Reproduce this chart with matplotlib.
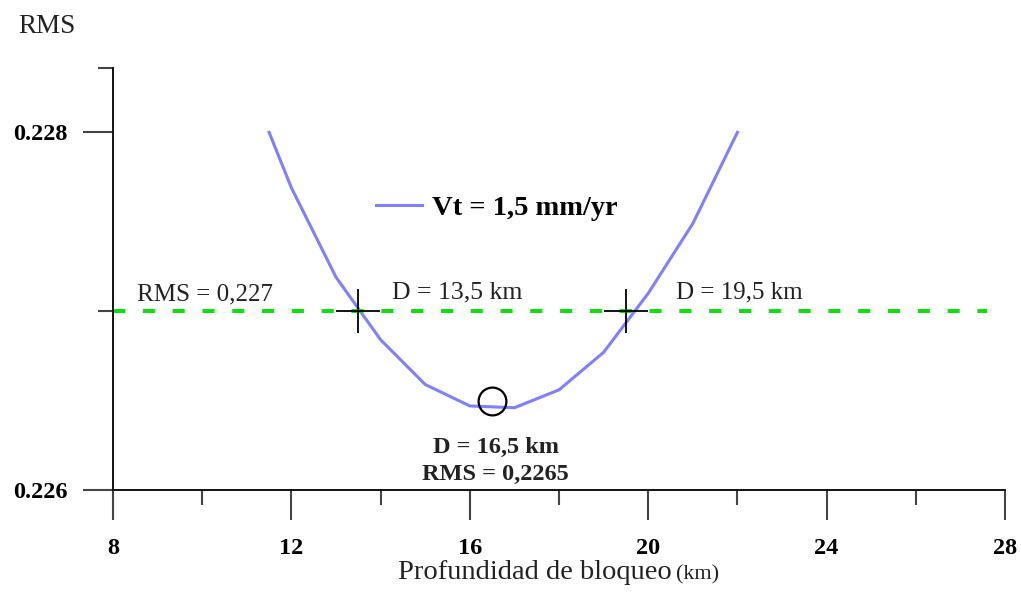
import numpy as np
import matplotlib
matplotlib.use("Agg")
import matplotlib.pyplot as plt

# Locking depth (km) vs RMS misfit for Vt = 1.5 mm/yr
depth_km = [11.5, 12, 13, 14, 15, 16, 17, 18, 19, 20, 21, 22]
rms = [0.22800, 0.22769, 0.22719, 0.22684, 0.22659, 0.22647,
       0.22646, 0.22656, 0.22677, 0.22710, 0.22749, 0.22800]

rms_threshold = 0.227
bound_depths = [13.5, 19.5]
best_depth = 16.5
best_rms = 0.2265

x_major = [8, 12, 16, 20, 24, 28]
x_minor = [10, 14, 18, 22, 26]
y_major = [0.226, 0.228]
y_major_labels = ["0.226", "0.228"]
y_top = 0.22836

serif = ["Liberation Serif", "DejaVu Serif"]
plt.rcParams["font.family"] = serif

W, H = 1021, 594
fig = plt.figure(figsize=(W / 100, H / 100), dpi=100)
ax = fig.add_axes([113 / W, (H - 490) / H, (1005 - 113) / W, (490 - 68) / H])


def fig_text(px, py, s, **kw):
    """Place text at a pixel position measured from the top-left corner."""
    fig.text(px / W, 1 - py / H, s, **kw)


ax.set_xlim(8, 28)
ax.set_ylim(0.226, y_top)

# curve and threshold
ax.plot(depth_km, rms, color="#8080ff", lw=2.2, solid_joinstyle="miter")
ax.plot([8, 27.6], [rms_threshold, rms_threshold], color="#11dd11", lw=2.9,
        dashes=(3.0, 4.4), dash_capstyle="butt")

# bound markers and best-fit circle
ax.plot(bound_depths, [rms_threshold] * len(bound_depths), ls="none",
        marker="+", ms=31, mew=1.3, color="black")
ax.plot([best_depth], [best_rms], ls="none", marker="o", ms=20,
        mfc="none", mec="black", mew=1.6)

# axes styling
for side in ("top", "right"):
    ax.spines[side].set_visible(False)
for side in ("left", "bottom"):
    ax.spines[side].set_linewidth(1.4)
    ax.spines[side].set_color("#111111")

ax.set_xticks(x_major)
ax.set_xticks(x_minor, minor=True)
ax.set_yticks(y_major)
ax.set_yticklabels(y_major_labels)
ax.set_yticks([rms_threshold, y_top], minor=True)
ax.tick_params(axis="both", which="major", direction="out", length=21.5,
               width=1.5, color="#444444", labelsize=17.5)
ax.tick_params(axis="both", which="minor", direction="out", length=10.5,
               width=1.5, color="#444444")
ax.tick_params(axis="x", which="major", pad=13)
ax.tick_params(axis="y", which="major", pad=11)
for lab in ax.get_xticklabels() + ax.get_yticklabels():
    lab.set_fontweight("bold")

# legend entry
fig.add_artist(plt.Line2D([376 / W, 422 / W], [1 - 205 / H, 1 - 205 / H],
                          color="#8080ff", lw=2.2))
fig_text(432, 215, "Vt = 1,5 mm/yr", fontsize=20.5, fontweight="bold",
         va="baseline", ha="left")

# annotations
fig_text(137, 300, "RMS = 0,227", fontsize=18, va="baseline", ha="left",
         color="#222222")
fig_text(392, 298, "D = 13,5 km", fontsize=18.5, va="baseline", ha="left",
         color="#222222")
fig_text(676, 298, "D = 19,5 km", fontsize=18, va="baseline", ha="left",
         color="#222222")
fig_text(496, 453, "D = 16,5 km", fontsize=17.5, fontweight="bold",
         va="baseline", ha="center", color="#222222")
fig_text(495, 480, "RMS = 0,2265", fontsize=17.5, fontweight="bold",
         va="baseline", ha="center", color="#222222")

# axis titles
fig_text(18, 33, "RMS", fontsize=19.5, va="baseline", ha="left",
         color="#222222")
fig_text(672, 579, "Profundidad de bloqueo", fontsize=20.5, va="baseline",
         ha="right", color="#222222")
fig_text(676, 579, "(km)", fontsize=16, va="baseline", ha="left",
         color="#222222")

fig.savefig("out.png", dpi=100)
